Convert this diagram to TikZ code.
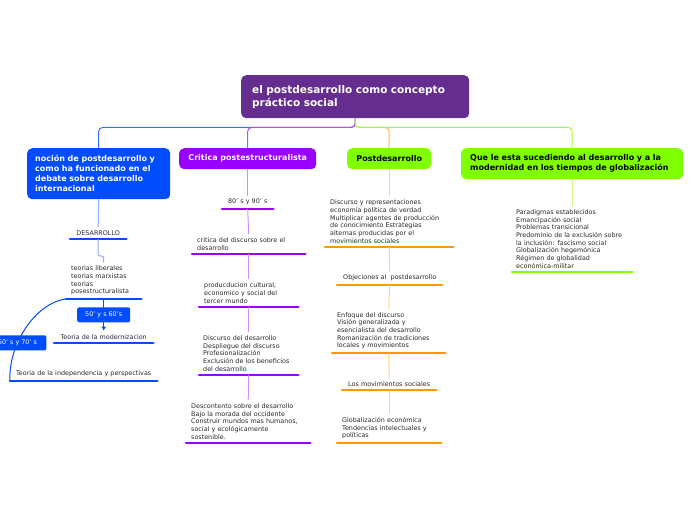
\documentclass[tikz,border=0pt]{standalone}
\usepackage{fontspec}
\setmainfont{DejaVu Sans}
\usetikzlibrary{arrows.meta}

\definecolor{rootcol}{RGB}{102,45,145}
\definecolor{bluecol}{RGB}{0,76,255}
\definecolor{purpcol}{RGB}{153,0,255}
\definecolor{orcol}{RGB}{255,153,0}
\definecolor{grcol}{RGB}{128,255,0}
\definecolor{txtcol}{RGB}{40,40,40}

\newcommand{\topicfont}{\fontsize{6.4}{7.7}\selectfont}
\newcommand{\boxfont}{\bfseries\fontsize{8}{10}\selectfont}

\begin{document}
\begin{tikzpicture}[x=1pt, y=-1pt,
    mainbox/.style={fill=#1, rounded corners=5pt, anchor=north west, inner ysep=0pt},
    topic/.style={anchor=south west, font=\topicfont, text=txtcol, inner xsep=5pt, inner ysep=3.5pt},
    uline/.style={draw=#1, line width=2.6pt, line cap=round},
    topline/.style={draw=#1, line width=1pt, rounded corners=4pt},
    subline/.style={draw=#1!45, line width=1pt},
    lab/.style={fill=bluecol, text=white, rounded corners=2pt, font=\topicfont, minimum height=15pt, inner xsep=4pt}]
      \useasboundingbox (0,0) rectangle (696,520);

      % main topics
      \node[mainbox=rootcol, text=white, minimum height=43pt, inner xsep=11pt, text width=206pt, align=left,
            font=\bfseries\fontsize{10.5}{13}\selectfont] (root) at (241,75)
            {el postdesarrollo como concepto\\práctico social};
      \node[mainbox=bluecol, text=white, minimum height=51pt, inner xsep=8pt, text width=127pt, align=left, font=\boxfont] (noc) at (27,148)
            {noción de postdesarrollo y\\como ha funcionado en el\\debate sobre desarrollo\\internacional};
      \node[mainbox=purpcol, text=white, minimum height=21pt, minimum width=137pt, font=\boxfont] (crit) at (179,148)
            {Critica postestructuralista};
      \node[mainbox=grcol, text=black, minimum height=21pt, minimum width=84pt, font=\boxfont] (post) at (347,148)
            {Postdesarrollo};
      \node[mainbox=grcol, text=black, minimum height=31pt, inner xsep=9pt, text width=204pt, align=left, font=\boxfont] (glob) at (461,148)
            {Que le esta sucediendo al desarrollo y a la\\modernidad en los tiempos de globalización};

      \draw[topline=bluecol!80] (root.south) -- ++(0,9) -| (noc.north);
      \draw[topline=purpcol!70] (root.south) -- ++(0,9) -| (crit.north);
      \draw[topline=orcol!70] (root.south) -- ++(0,9) -| (post.north);
      \draw[topline=grcol!80] (root.south) -- ++(0,9) -| (glob.north);

      % noción
      \node[topic, text width=46pt, align=center] (desa) at (70,239) {DESARROLLO};
      \node[topic, text width=65pt, align=left] (teor) at (66,299)
            {teorias liberales\\teorias marxistas\\teorias\\posestructuralista};
      \node[topic, inner xsep=3pt, text width=93pt, align=center] (mod) at (54,343) {Teoria de la modernizacion};
      \node[topic, inner xsep=2pt, text width=143pt, align=center] (indep) at (10,381)
            {Teoria de la independencia y perspectivas};
      \draw[uline=bluecol] (desa.south west) -- (desa.south east);
      \draw[uline=bluecol] (teor.south west) -- (teor.south east);
      \draw[uline=bluecol] (mod.south west) -- (mod.south east);
      \draw[uline=bluecol] (indep.south west) -- (indep.south east);
      \draw[subline=bluecol] (noc.south) -- (desa.north);
      \draw[subline=bluecol, rounded corners=2pt] (desa.south) -- ++(0,17) -| (teor.north);
      \draw[bluecol, line width=1pt, -{Latex[length=4pt,width=5pt]}] (teor.south) --
            node[lab, minimum width=53pt] (lab60) {50' y s 60's} (mod.north);
      \draw[bluecol, line width=1pt] (teor.south west) .. controls (35,303) and (8,345) .. (indep.south west)
            node[lab, pos=0.65, minimum width=58pt] (lab70) {50' s y 70' s};

      % critica
      \node[topic, inner xsep=3pt, text width=45pt, align=center] (ochenta) at (222,209) {80' s y 90' s};
      \node[topic, text width=103pt, align=left] (critdisc) at (192,254)
            {critica del discurso sobre el\\desarrollo};
      \node[topic, text width=89pt, align=left] (prod) at (199,307)
            {producducion cultural,\\economico y social del\\tercer mundo};
      \node[topic, inner xsep=4pt, text width=91pt, align=left] (discdes) at (199,375)
            {Discurso del desarrollo\\Despliegue del discurso\\Profesionalización\\Exclusión de los beneficios\\del desarrollo};
      \node[topic, text width=114pt, align=left] (descont) at (186,443)
            {Descontento sobre el desarrollo\\Bajo la morada del occidente\\Construir mundos mas humanos,\\social y ecológicamente\\sostenible.};
      \draw[uline=purpcol] (ochenta.south west) -- (ochenta.south east);
      \draw[uline=purpcol] (critdisc.south west) -- (critdisc.south east);
      \draw[uline=purpcol] (prod.south west) -- (prod.south east);
      \draw[uline=purpcol] (discdes.south west) -- (discdes.south east);
      \draw[uline=purpcol] (descont.south west) -- (descont.south east);
      \draw[subline=purpcol] (crit.south) -- (ochenta.north);
      \draw[subline=purpcol] (ochenta.south) -- (critdisc.north);
      \draw[subline=purpcol] (critdisc.south) -- (prod.north);
      \draw[subline=purpcol] (prod.south) -- (discdes.north);
      \draw[subline=purpcol] (discdes.south) -- (descont.north);

      % postdesarrollo
      \node[topic, text width=118pt, align=left] (discrep) at (325,247)
            {Discurso y representaciones\\economía política de verdad\\Multiplicar agentes de producción\\de conocimiento Estrategias\\alternas producidas por el\\movimientos sociales};
      \node[topic, text width=95pt, align=center] (objec) at (337,285) {Objeciones al\ \ postdesarrollo};
      \node[topic, text width=103pt, align=left] (enfoq) at (332,353)
            {Enfoque del discurso\\Visión generalizada y\\esencialista del desarrollo\\Romanización de tradiciones\\locales y movimientos};
      \node[topic, text width=84pt, align=center] (movsoc) at (342,390) {Los movimientos sociales};
      \node[topic, text width=94pt, align=left] (globec) at (337,443)
            {Globalización económica\\Tendencias intelectuales y\\políticas};
      \draw[uline=orcol] (discrep.south west) -- (discrep.south east);
      \draw[uline=orcol] (objec.south west) -- (objec.south east);
      \draw[uline=orcol] (enfoq.south west) -- (enfoq.south east);
      \draw[uline=orcol] (movsoc.south west) -- (movsoc.south east);
      \draw[uline=orcol] (globec.south west) -- (globec.south east);
      \draw[subline=orcol] (post.south) -- (discrep.north);
      \draw[subline=orcol] (discrep.south) -- (objec.north);
      \draw[subline=orcol] (objec.south) -- (enfoq.north);
      \draw[subline=orcol] (enfoq.south) -- (movsoc.north);
      \draw[subline=orcol] (movsoc.south) -- (globec.north);

      % globalizacion
      \node[topic, inner xsep=4pt, text width=112pt, align=left] (paradig) at (512,272)
            {Paradigmas establecidos\\Emancipación social\\Problemas transicional\\Predominio de la exclusión sobre\\la inclusión: fascismo social\\Globalización hegemónica\\Régimen de globalidad\\económica-militar};
      \draw[uline=grcol] (paradig.south west) -- (paradig.south east);
      \draw[subline=grcol] (glob.south) -- (paradig.north);

    \end{tikzpicture}
\end{document}
